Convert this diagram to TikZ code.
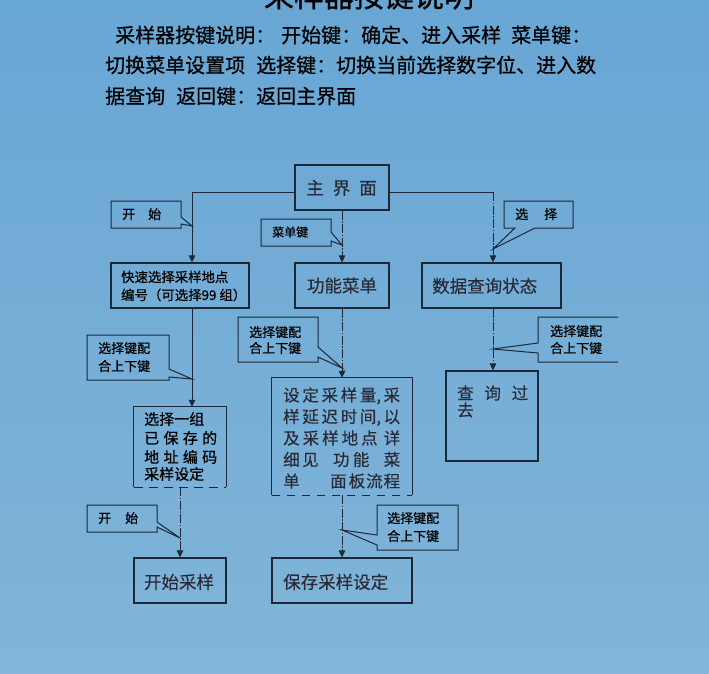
\documentclass[tikz,border=0pt]{standalone}
\usepackage{fontspec}
\usetikzlibrary{arrows.meta,calc}
\newfontfamily\cjk{Noto Sans CJK SC}
\newfontfamily\cjkb[FakeBold=0.6]{Noto Sans CJK SC}
\newfontfamily\cjkm[FakeBold=0.25]{Noto Sans CJK SC}
\definecolor{bgtop}{HTML}{68A6D4}
\definecolor{bgbot}{HTML}{82B5D9}
\definecolor{ln}{HTML}{1C2838}
\definecolor{boxtxt}{HTML}{2A2A36}
\newcommand{\fs}[1]{\fontsize{#1pt}{#1pt}\selectfont}
\tikzset{
  boxline/.style={draw=ln, line width=1.2pt},
  box/.style={boxline, inner sep=0pt},
  hold/.style={inner sep=0pt},
  conn/.style={draw=ln, line width=1pt, -{Triangle[length=7pt,width=6.5pt]}},
  dd/.style={dash pattern=on 9pt off 1.5pt on 1.5pt off 1.5pt},
  call/.style={draw=ln, line width=1pt, line join=miter},
  toptxt/.style={anchor=base west, inner sep=0pt, font=\cjkb\fs{20}, text=black},
  btxt/.style={inner sep=0pt, font=\cjkm\fs{17.5}, text=boxtxt},
  ctxt/.style={anchor=base west, inner sep=0pt, font=\cjkb\fs{13}, text=black},
}
\begin{document}
\begin{tikzpicture}[x=1pt,y=-1pt]
\path[use as bounding box] (0,0) rectangle (709,673);
\clip (0,0) rectangle (709,673);
\shade[top color=bgtop,bottom color=bgbot] (0,0) rectangle (709,673);

% title (cut off at the top edge, as in the reference) and description
\node[anchor=base, inner sep=0pt, font=\cjkb\fs{30}] (title) at (369,7) {采样器按键说明};
\node[toptxt] (l1) at (115,42.6) {采样器按键说明：\hspace{6pt}开始键：确定、进入采样\hspace{10pt}菜单键：};
\node[toptxt] (l2) at (105,72.6) {切换菜单设置项\hspace{11pt}选择键：切换当前选择数字位、进入数};
\node[toptxt] (l3) at (105,103.6) {据查询\hspace{11pt}返回键：返回主界面};

% boxes
\node[box, minimum width=94pt, minimum height=45pt] (main) at (342,187.5) {};
\node[box, minimum width=138pt, minimum height=45pt] (quick) at (180,285.5) {};
\node[box, minimum width=94pt, minimum height=45pt] (func) at (342,285.5) {};
\node[box, minimum width=139pt, minimum height=45pt] (data) at (491.5,285.5) {};
\node[hold, minimum width=92pt, minimum height=80pt] (grp) at (180,447) {};
\node[hold, minimum width=140pt, minimum height=117pt] (set) at (342,436.5) {};
\node[box, minimum width=92pt, minimum height=90pt] (query) at (492,416) {};
\node[box, minimum width=92pt, minimum height=45pt] (start) at (180,580.5) {};
\node[box, minimum width=140pt, minimum height=45pt] (save) at (342,580.5) {};

\draw[boxline] (grp.south west) -- (grp.north west) -- (grp.north east) -- (grp.south east);
\draw[boxline, dash pattern=on 9pt off 6pt] (grp.south west) -- (grp.south east);
\draw[boxline] (set.south west) -- (set.north west) -- (set.north east) -- (set.south east);
\draw[boxline, dash pattern=on 8pt off 7pt] (set.south west) -- (set.south east);

% box texts
\node[btxt] (tmain) at (341.5,188) {主\hspace{9pt}界\hspace{9pt}面};
\node[anchor=base west, inner sep=0pt, font=\cjkb\fs{13.4}] (tq1) at (121,282) {快速选择采样地点};
\node[anchor=base west, inner sep=0pt, font=\cjkb\fs{13.4}] (tq2) at (121,300) {编号（可选择99 组）};
\node[btxt] (tfunc) at (342,285.5) {功能菜单};
\node[btxt, anchor=base west] (tdata) at (432,292.6) {数据查询状态};
\begin{scope}[every node/.style={anchor=base west, inner sep=0pt, font=\cjkm\fs{16.5}, text=boxtxt}]
\node (s1) at (283,401.3) {\makebox[117pt][s]{设\hfill 定\hfill 采\hfill 样\hfill 量,\hfill 采}};
\node (s2) at (283,422.8) {\makebox[117pt][s]{样\hfill 延\hfill 迟\hfill 时\hfill 间,\hfill 以}};
\node (s3) at (283,444.3) {\makebox[117pt][s]{及\hfill 采\hfill 样\hfill 地\hfill 点\hfill\hfill 详}};
\node (s4) at (283,465.8) {\makebox[117pt][s]{细\hspace{2.5pt}见\hfill 功\hspace{3.5pt}能\hfill 菜}};
\node (s5) at (283,487.3) {\makebox[117pt][s]{单\hfill 面\hspace{2pt}板\hspace{1pt}流\hspace{1pt}程}};
\end{scope}
\begin{scope}[every node/.style={anchor=base west, inner sep=0pt, font=\cjkb\fs{15}, text=black}]
\node (g1) at (144,424.7) {选择一组};
\node (g2) at (144,443.7) {\makebox[73pt][s]{已\hfill 保\hfill 存\hfill 的}};
\node (g3) at (144,462.7) {\makebox[73pt][s]{地\hfill 址\hfill 编\hfill 码}};
\node (g4) at (144,479.7) {采样设定};
\end{scope}
\node[anchor=base west, inner sep=0pt, font=\cjkm\fs{16.5}, text=boxtxt] (q1) at (457,399.3) {\makebox[71pt][s]{查\hfill 询\hfill 过}};
\node[anchor=base west, inner sep=0pt, font=\cjkm\fs{16.5}, text=boxtxt] (q2) at (457,416.3) {去};
\node[btxt] (tstart) at (179,582) {开始采样};
\node[btxt, anchor=base west] (tsave) at (283,588.6) {保存采样设定};

% connectors
\coordinate (jl) at (192,192);
\coordinate (jr) at (493,192);
\draw[conn] (main.west |- jl) -- (jl) -- (jl |- quick.north);
\draw[draw=ln, line width=1pt] (main.east |- jr) -- (jr);
\draw[conn,dd] (jr) -- (jr |- data.north);
\draw[conn,dd] (main.south) -- (func.north);
\draw[conn,dd] (func.south) -- (set.north);
\draw[conn,dd] (set.south) -- (save.north);
\draw[conn] (quick.south -| jl) -- (jl |- grp.north);
\draw[conn,dd] (grp.south) -- (start.north);
\draw[conn,dd] (data.south -| jr) -- (jr |- query.north);

% callouts
\draw[call] (111,201) -- (181,201) -- (181,217) -- (192,226) -- (181,224) -- (181,228) -- (111,228) -- cycle;
\node[ctxt] (c1) at (122,219) {开\hspace{13pt}始};
\draw[call] (261,219) -- (331,219) -- (331,232) -- (342,245) -- (331,241) -- (331,246) -- (261,246) -- cycle;
\node[ctxt, font=\cjkb\fs{12}] (c2) at (272,236.6) {菜单键};
\draw[call] (504,201) -- (573,201) -- (573,228) -- (535,228) -- (493,249) -- (515,228) -- (504,228) -- cycle;
\node[ctxt] (c3) at (515,219) {选\hspace{16pt}择};
\draw[call] (238,317) -- (318,317) -- (318,347) -- (342,368) -- (318,357) -- (318,362) -- (238,362) -- cycle;
\node[ctxt] (c4a) at (249,337) {选择键配};
\node[ctxt] (c4b) at (249,353) {合上下键};
\draw[call] (87,335) -- (169,335) -- (169,369) -- (192,379) -- (169,377) -- (169,380) -- (87,380) -- cycle;
\node[ctxt] (c5a) at (98,353) {选择键配};
\node[ctxt] (c5b) at (98,371) {合上下键};
\draw[call] (618,317) -- (538,317) -- (538,343) -- (493,349) -- (538,353) -- (538,362) -- (618,362);
\node[ctxt] (c6a) at (550,336) {选择键配};
\node[ctxt] (c6b) at (550,353) {合上下键};
\draw[call] (87,505) -- (157,505) -- (157,522) -- (180,538) -- (157,527) -- (157,532) -- (87,532) -- cycle;
\node[ctxt] (c7) at (98,523) {开\hspace{14pt}始};
\draw[call] (377,505) -- (458,505) -- (458,550) -- (377,550) -- (377,545) -- (342,530) -- (377,535) -- cycle;
\node[ctxt] (c8a) at (387,523) {选择键配};
\node[ctxt] (c8b) at (387,541) {合上下键};
\end{tikzpicture}
\end{document}
